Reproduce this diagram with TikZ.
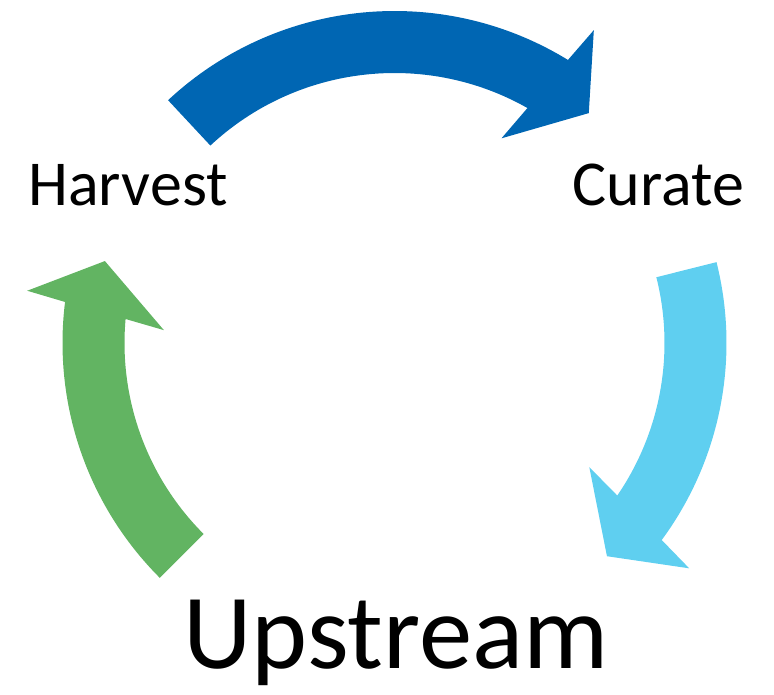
\documentclass[tikz,border=0pt]{standalone}
\usepackage{fontspec}
\setmainfont{Carlito}

\definecolor{harvestblue}{RGB}{0,102,179}
\definecolor{curatecyan}{RGB}{95,207,240}
\definecolor{upstreamgreen}{RGB}{98,180,98}

\tikzset{every picture/.style={line width=0.75pt}}
\tikzset{
  cycle arrow/.style={draw=none, shift={(ctr)}},
  stage label/.style={anchor=base, inner sep=0pt, font=\fontsize{48}{56}\selectfont},
}

\begin{document}
\begin{tikzpicture}[x=0.75pt,y=0.75pt,yscale=-1,xscale=1]
\useasboundingbox (0,0) rectangle (774,694); %set diagram to 774 x 694
\coordinate (ctr) at (394.5,343);
%Shape: Circular Arrow, Harvest -> Curate
\fill [cycle arrow, harvestblue] (-133:332) arc [start angle=-133, end angle=-58.5, radius=332] -- (-57.5:371) -- (-49.8:301) -- (-62.4:231) -- (-60.5:270) arc [start angle=-60.5, end angle=-133, radius=270] -- cycle ;
%Shape: Circular Arrow, Curate -> Upstream
\fill [cycle arrow, curatecyan] (-14.1:332) arc [start angle=-14.1, end angle=36.4, radius=332] -- (37.4:371) -- (45.1:301) -- (32.5:231) -- (34.4:270) arc [start angle=34.4, end angle=-14.1, radius=270] -- cycle ;
%Shape: Circular Arrow, Upstream -> Harvest
\fill [cycle arrow, upstreamgreen] (135:332) arc [start angle=135, end angle=187.1, radius=332] -- (188.1:371) -- (195.8:301) -- (183.2:231) -- (185.1:270) arc [start angle=185.1, end angle=135, radius=270] -- cycle ;
% Text Node
\draw (128,205) node (harvest) [stage label] {Harvest};
% Text Node
\draw (658.5,205) node (curate) [stage label] {Curate};
% Text Node
\draw (396,668) node (upstream) [stage label, font=\fontsize{80}{96}\selectfont] {Upstream};
\end{tikzpicture}
\end{document}
